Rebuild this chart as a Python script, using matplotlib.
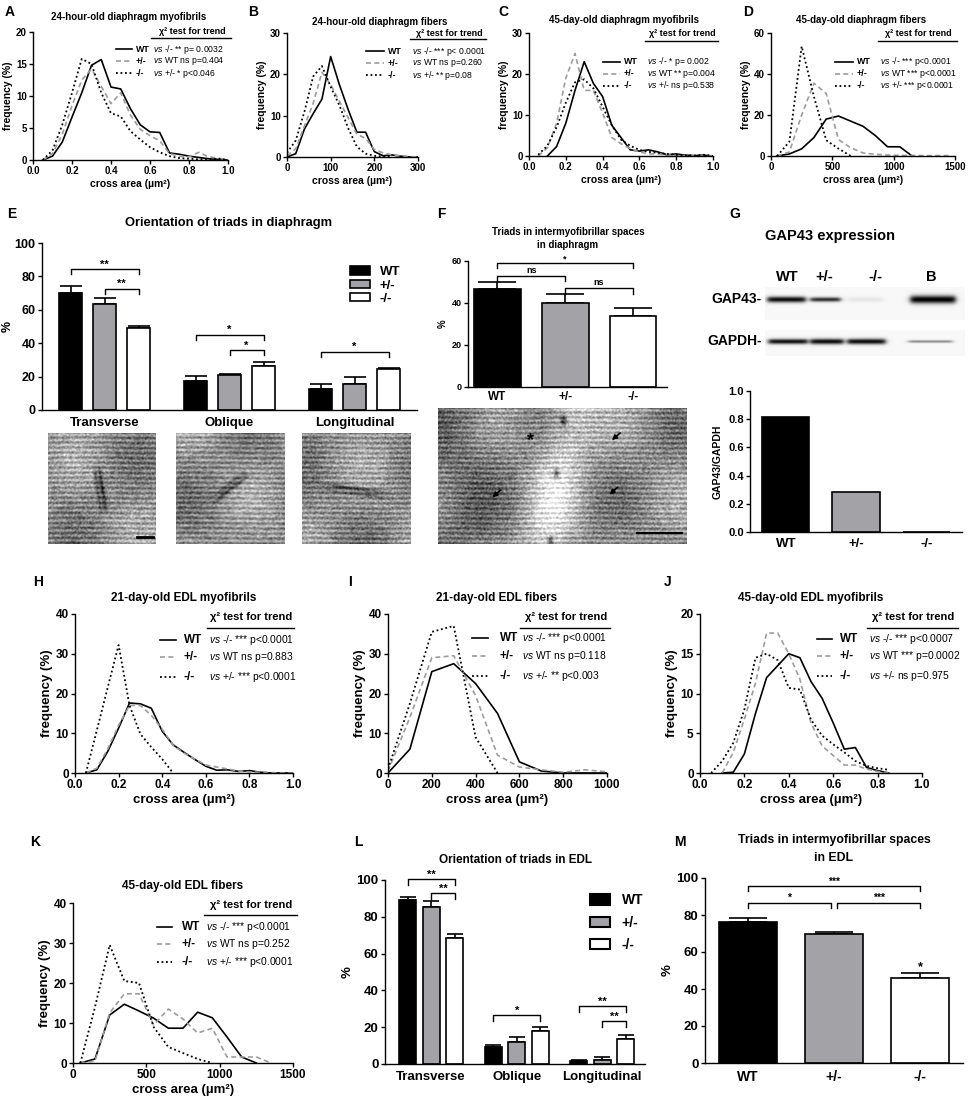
import numpy as np
import matplotlib
matplotlib.use("Agg")
import matplotlib.pyplot as plt
from matplotlib.lines import Line2D
from matplotlib.patches import Patch
from matplotlib.ticker import FormatStrFormatter

plt.rcParams['font.family'] = ['Liberation Sans', 'DejaVu Sans']
plt.rcParams['mathtext.fontset'] = 'custom'
plt.rcParams['mathtext.rm'] = 'Liberation Sans'
plt.rcParams['mathtext.it'] = 'Liberation Sans:italic'
plt.rcParams['mathtext.bf'] = 'Liberation Sans:bold'

nan = float('nan')

# ---------------- data ----------------
groups = ['WT', '+/-', '-/-']

# A - 24-hour-old diaphragm myofibrils
a_bins = [0.05, 0.1, 0.15, 0.2, 0.25, 0.3, 0.35, 0.4, 0.45, 0.5,
          0.55, 0.6, 0.65, 0.7, 0.75, 0.8, 0.85, 0.9, 0.95, 1.0]
a_wt = [0, 0.6, 2.8, 6.7, 10.5, 14.8, 15.7, 11.4, 11.1, 8.0, 5.5, 4.4, 4.3, 1.1, 0.9, 0.6, 0.4, 0.2, 0.1, 0]
a_het = [0, 1.0, 4.0, 8.5, 12.5, 14.2, 11.5, 8.8, 10.5, 7.0, 4.8, 3.8, 3.0, 1.0, 0.6, 0.5, 1.2, 0.5, 0.3, 0]
a_ko = [0, 1.5, 5.5, 10.5, 15.8, 15.0, 10.5, 7.3, 6.8, 4.5, 3.2, 2.0, 1.2, 0.6, 0.3, 0.2, 0.1, 0.1, 0.2, 0]
a_comp = ['-/- ** p= 0.0032', 'WT ns p=0.404', '+/- * p<0.046']

# B - 24-hour-old diaphragm fibers
b_bins = [0, 20, 40, 60, 80, 100, 120, 140, 160, 180, 200, 220, 240, 260, 280, 300]
b_wt = [0, 0.8, 6.8, 10.5, 14, 24.3, 17.5, 11.5, 6, 6, 1.3, 0.3, 0.5, 0.2, 0, 0]
b_het = [0.3, 2, 7.5, 13, 20.5, 17.5, 13.5, 9.5, 5.5, 4.5, 1.8, 1, 0.5, 0.3, 0.1, 0]
b_ko = [1.0, 4, 11, 19.5, 22, 17, 12.5, 7, 2.5, 0.8, 0.3, 0.1, 0, nan, nan, nan]
b_comp = ['-/- *** p< 0.0001', 'WT ns p=0.260', '+/- ** p=0.08']

# C - 45-day-old diaphragm myofibrils
c_bins = a_bins
c_wt = [nan, 0, 2.3, 8, 16, 23, 17.7, 14.5, 7.5, 4.5, 1.5, 1.2, 1.5, 1.0, 0.3, 0.5, 0.2, 0.1, 0.2, 0]
c_het = [0, 2, 8, 19, 25, 16, 16, 10.5, 4.5, 3, 1.8, 1.0, 0.5, 0.5, 0.3, 0.1, 0.1, 0, 0, 0]
c_ko = [0.3, 2.5, 7, 13, 18, 18.7, 16.5, 12, 7.5, 4, 2.5, 1.5, 1, 0.8, 0.5, 0.3, 0.2, 0.1, 0.3, 0]
c_comp = ['-/- * p= 0.002', 'WT ** p=0.004', '+/- ns p=0.538']

# D - 45-day-old diaphragm fibers
d_bins = [50, 150, 250, 350, 450, 550, 650, 750, 850, 950, 1050, 1150, 1250, 1350, 1450]
d_wt = [0, 1, 3.5, 9, 18, 19.5, 17, 14.5, 10, 4.5, 4.5, 0, nan, nan, nan]
d_het = [0, 2, 20, 35.5, 30.5, 8, 4, 1.5, 0.8, 0.5, 0.3, 0.3, 0.2, 0.2, 0.2]
d_ko = [0, 7, 53.5, 29, 7.7, 3.6, 0, nan, nan, nan, nan, nan, nan, nan, nan]
d_comp = ['-/- *** p<0.0001', 'WT *** p<0.0001', '+/- *** p<0.0001']

# E - orientation of triads in diaphragm
orient = ['Transverse', 'Oblique', 'Longitudinal']
e_mean = {'WT': [70.1, 17.5, 12.5], '+/-': [63.7, 20.9, 15.5], '-/-': [49.4, 26.5, 24.3]}
e_err = {'WT': [4.2, 2.8, 3.0], '+/-': [3.4, 0.6, 4.0], '-/-': [1.0, 2.0, 1.0]}
e_sig = [(0, 0, 2, 84.3, '**'), (0, 1, 2, 72.7, '**'), (1, 0, 2, 45.2, '*'),
         (1, 1, 2, 35.9, '*'), (2, 0, 2, 34.9, '*')]

# F - triads in intermyofibrillar spaces, diaphragm
f_mean = [46.7, 40.0, 34.0]
f_err = [3.5, 4.4, 3.4]
f_sig = [(0, 2, 59.2, '*'), (0, 1, 53.0, 'ns'), (1, 2, 47.0, 'ns')]

# G - GAP43 expression
lanes = ['WT', '+/-', '-/-', 'B']
gap43_band = [0.92, 0.78, 0.07, 0.98]
gapdh_band = [0.90, 0.92, 0.92, 0.40]
g_ratio = [0.816, 0.287, 0.0]

# H - 21-day-old EDL myofibrils
h_bins = a_bins
h_wt = [0, 0.8, 5.4, 11.3, 17.6, 17.4, 16.3, 10.5, 7.1, 5.2, 3.4, 1.7, 0.7, 0.8, 0.4, 0.6, 0.2, 0, 0, 0]
h_het = [0, 1.2, 6, 12, 17, 17, 14.5, 11, 7, 5, 3.5, 2, 1.5, 1, 0.5, 0.3, 0.2, 0.1, 0, 0]
h_ko = [0, 10.7, 21.5, 32.2, 17, 9.8, 6.5, 3.5, 0, nan, nan, nan, nan, nan, nan, nan, nan, nan, nan, nan]
h_comp = ['-/- *** p<0.0001', 'WT ns p=0.883', '+/- *** p<0.0001']

# I - 21-day-old EDL fibers
i_bins = [0, 100, 200, 300, 400, 500, 600, 700, 800, 900, 1000]
i_wt = [0, 6, 25.5, 27.5, 22.5, 15, 2.8, 0.5, 0, 0, 0]
i_het = [0.5, 14, 29, 29.5, 19.5, 4.5, 1.5, 0.8, 0.2, 0.8, 0.3]
i_ko = [1, 17.5, 35.5, 37, 9, 0, nan, nan, nan, nan, nan]
i_comp = ['-/- *** p<0.0001', 'WT ns p=0.118', '+/- ** p<0.003']

# J - 45-day-old EDL myofibrils
j_bins = [0.05, 0.1, 0.15, 0.2, 0.25, 0.3, 0.35, 0.4, 0.45, 0.5,
          0.55, 0.6, 0.65, 0.7, 0.75, 0.8, 0.85]
j_wt = [nan, 0, 0.1, 2.4, 7.5, 12, 13.5, 15, 14.5, 11.5, 9.4, 6.3, 3.0, 3.2, 0.7, 0.3, 0]
j_het = [nan, 0, 2.6, 6.8, 11.3, 17.6, 17.6, 15, 11.8, 6.3, 3.4, 2.2, 1.0, 1.0, 0.5, 0.2, 0]
j_ko = [0, 1.5, 3.8, 8, 14.5, 15, 14.2, 10.7, 10.5, 6.7, 4.7, 3.6, 2.6, 1.5, 0.9, 0.6, 0.4]
j_comp = ['-/- *** p<0.0007', 'WT *** p=0.0002', '+/- ns p=0.975']

# K - 45-day-old EDL fibers
k_bins = d_bins
k_wt = [0, 1, 12, 14.7, 13, 11.2, 8.7, 8.7, 12.7, 11.3, 6.5, 1.5, 0, nan, nan]
k_het = [0, 0.5, 12.5, 17.3, 17.3, 9.5, 13.5, 11, 7.5, 8.7, 1.5, 1.5, 1.5, 0, nan]
k_ko = [0, 14, 29.5, 20.5, 20, 9, 4, 2.5, 1, 0, nan, nan, nan, nan, nan]
k_comp = ['-/- *** p<0.0001', 'WT ns p=0.252', '+/- *** p<0.0001']

# L - orientation of triads in EDL
l_mean = {'WT': [89.1, 9.1, 1.5], '+/-': [85.5, 12.2, 2.2], '-/-': [68.7, 17.8, 13.6]}
l_err = {'WT': [1.9, 1.3, 0.7], '+/-': [3.1, 2.3, 1.4], '-/-': [2.0, 2.2, 2.2]}
l_sig = [(0, 0, 2, 100.5, '**'), (0, 1, 2, 92.8, '**'), (1, 0, 2, 26.4, '*'),
         (2, 0, 2, 31.5, '**'), (2, 1, 2, 23.3, '**')]

# M - triads in intermyofibrillar spaces, EDL
m_mean = [76.3, 69.5, 46.1]
m_err = [2.3, 1.2, 2.4]
m_sig = [(0, 2, 95.5, '***'), (0, 0.96, 86.7, '*'), (1.04, 2, 86.7, '***')]

# ---------------- layout helpers ----------------
W, H = 970, 1110
fig = plt.figure(figsize=(W / 100, H / 100), dpi=100)

FILL = {'WT': 'black', '+/-': '#a3a3a7', '-/-': 'white'}
STY = {'WT': dict(color='black', ls='-', lw=1.2),
       '+/-': dict(color='#9c9c9c', ls=(0, (3, 2)), lw=1.2),
       '-/-': dict(color='black', ls=(0, (1, 1.5)), lw=1.3)}


def fx(x):
    return x / W


def fy(y):
    return 1 - y / H


def rect(l, t, r, b):
    return [l / W, 1 - b / H, (r - l) / W, (b - t) / H]


def ftext(x, y, s, **kw):
    kw.setdefault('ha', 'center')
    kw.setdefault('va', 'center')
    return fig.text(fx(x), fy(y), s, **kw)


def style_axes(ax, fs):
    for s in ['top', 'right']:
        ax.spines[s].set_visible(False)
    for s in ['left', 'bottom']:
        ax.spines[s].set_linewidth(1.0)
    ax.tick_params(direction='out', length=3, width=1, labelsize=fs, pad=1.5)
    for lab in ax.get_xticklabels() + ax.get_yticklabels():
        lab.set_fontweight('bold')


def line_panel(box, bins, ys, xlim, xticks, ylim, yticks, fmt, fs_tick, fs_lab):
    ax = fig.add_axes(rect(*box))
    for g, y in zip(groups, ys):
        ax.plot(bins, y, **STY[g])
    ax.set_xlim(xlim)
    ax.set_ylim(ylim)
    ax.set_xticks(xticks)
    ax.set_yticks(yticks)
    ax.xaxis.set_major_formatter(FormatStrFormatter(fmt))
    style_axes(ax, fs_tick)
    ax.set_xlabel('cross area (µm²)', fontsize=fs_lab, fontweight='bold', labelpad=2)
    ax.set_ylabel('frequency (%)', fontsize=fs_lab, fontweight='bold', labelpad=2)
    return ax


def chi_legend(xl0, xl1, xlab, xtxt, xend, yhead, yline, rows, comps, fs_head, fs_lab, fs_txt):
    ftext((xtxt + xend) / 2, yhead, 'χ² test for trend', fontsize=fs_head, fontweight='bold')
    fig.add_artist(Line2D([fx(xtxt - 2), fx(xend)], [fy(yline)] * 2, color='black', lw=1.0))
    for g, y, c in zip(groups, rows, comps):
        fig.add_artist(Line2D([fx(xl0), fx(xl1)], [fy(y)] * 2, **STY[g]))
        ftext(xlab, y, g, ha='left', fontsize=fs_lab, fontweight='bold')
        ftext(xtxt, y, r'$\mathit{vs}$ ' + c, ha='left', fontsize=fs_txt)


def bracket(ax, x1, x2, y, label, h, fs, off):
    ax.plot([x1, x1, x2, x2], [y - h, y, y, y - h], color='black', lw=1.0, clip_on=False)
    ax.annotate(label, ((x1 + x2) / 2, y), xytext=(0, off), textcoords='offset points',
                ha='center', va='baseline', fontsize=fs, fontweight='bold',
                annotation_clip=False)


def grouped_bars(ax, means, errs, width, offs, capsize):
    x = np.arange(len(orient))
    for g, off in zip(groups, offs):
        ax.bar(x + off, means[g], width, color=FILL[g], edgecolor='black', lw=1.2, zorder=2)
        ax.errorbar(x + off, means[g], yerr=[np.zeros(3), errs[g]], fmt='none', ecolor='black',
                    elinewidth=1.2, capsize=capsize, capthick=1.2, zorder=1)


def single_bars(ax, means, errs, width, capsize):
    x = np.arange(len(groups))
    ax.bar(x, means, width, color=[FILL[g] for g in groups], edgecolor='black', lw=1.2, zorder=2)
    if errs is not None:
        ax.errorbar(x, means, yerr=[np.zeros(3), errs], fmt='none', ecolor='black',
                    elinewidth=1.2, capsize=capsize, capthick=1.2, zorder=1)


def micrograph(h, w, angle, length, phase):
    yy, xx = np.mgrid[0:h, 0:w].astype(float)
    stripes = np.sin(yy * 1.25 + 0.5 * np.sin(xx * 0.04 + phase))
    grain = np.sin(xx * 12.9898 + yy * 78.233 + phase) * 43758.5453
    grain = grain - np.floor(grain)
    img = 0.56 + 0.15 * stripes + 0.4 * (grain - 0.5)
    img = (img + np.roll(img, 1, 0) + np.roll(img, 1, 1) + np.roll(np.roll(img, 1, 0), 1, 1)) / 4
    img += 0.14 * np.sin(xx * 0.05 + phase) * np.sin(yy * 0.04 + 2 * phase)
    if length > 0:
        dx, dy = xx - w / 2, yy - h / 2
        par = dx * np.cos(angle) + dy * np.sin(angle)
        perp = -dx * np.sin(angle) + dy * np.cos(angle)
        img -= 0.35 * np.exp(-(perp / 2.2) ** 2) * np.exp(-(par / length) ** 4)
        img -= 0.25 * np.exp(-((perp - 5) / 2.0) ** 2) * np.exp(-(par / length) ** 4)
    return np.clip(img, 0, 1)


def show_image(box, img):
    ax = fig.add_axes(rect(*box))
    ax.imshow(img, cmap='gray', vmin=0, vmax=1, aspect='auto', interpolation='bilinear')
    ax.set_axis_off()
    return ax


# ---------------- top row: A-D ----------------
fs1_tick, fs1_lab = 7, 7.5
line_panel((33, 32, 228, 160), a_bins, [a_wt, a_het, a_ko], (0, 1), [0, 0.2, 0.4, 0.6, 0.8, 1.0],
           (0, 20), [0, 5, 10, 15, 20], '%.1f', fs1_tick, fs1_lab)
ftext(129, 17, '24-hour-old diaphragm myofibrils', fontsize=7, fontweight='bold')
chi_legend(116, 132, 136, 153, 231, 32, 38, [49, 61, 73], a_comp, 6.5, 6.4, 6.2)

line_panel((287, 33, 418, 157), b_bins, [b_wt, b_het, b_ko], (0, 300), [0, 100, 200, 300],
           (0, 30), [0, 10, 20, 30], '%d', fs1_tick, fs1_lab)
ftext(380, 22, '24-hour-old diaphragm fibers', fontsize=7, fontweight='bold')
chi_legend(366, 384, 388, 412, 486, 34, 39, [51, 63, 75], b_comp, 6.5, 6.4, 6.2)

line_panel((529, 33, 713, 156), c_bins, [c_wt, c_het, c_ko], (0, 1), [0, 0.2, 0.4, 0.6, 0.8, 1.0],
           (0, 30), [0, 10, 20, 30], '%.1f', fs1_tick, fs1_lab)
ftext(624, 20, '45-day-old diaphragm myofibrils', fontsize=7, fontweight='bold')
chi_legend(603, 620, 624, 647, 718, 34, 41, [62, 74, 86], c_comp, 6.5, 6.4, 6.2)

line_panel((771, 33, 955, 156), d_bins, [d_wt, d_het, d_ko], (0, 1500), [0, 500, 1000, 1500],
           (0, 60), [0, 20, 40, 60], '%d', fs1_tick, fs1_lab)
ftext(861, 20, '45-day-old diaphragm fibers', fontsize=7, fontweight='bold')
chi_legend(835, 853, 857, 880, 957, 34, 41, [62, 74, 86], d_comp, 6.5, 6.4, 6.2)

# ---------------- E ----------------
axE = fig.add_axes(rect(42, 243, 417, 410))
offsE = [-0.272, 0, 0.272]
grouped_bars(axE, e_mean, e_err, 0.184, offsE, 8)
axE.set_xlim(-0.5, 2.5)
axE.set_ylim(0, 100)
axE.set_yticks([0, 20, 40, 60, 80, 100])
axE.set_xticks(range(3))
axE.set_xticklabels(orient)
style_axes(axE, 9)
axE.tick_params(axis='x', length=0, pad=5, labelsize=9.5)
axE.set_ylabel('%', fontsize=9, fontweight='bold')
axE.yaxis.set_label_coords(-0.075, 0.5)
for gi, i, j, y, lab in e_sig:
    bracket(axE, gi + offsE[i], gi + offsE[j], y, lab, 3, 8, 1)
axE.legend([Patch(facecolor=FILL[g], edgecolor='black', lw=1.2) for g in groups], groups,
           loc='upper left', bbox_to_anchor=(0.805, 0.9), frameon=False, borderpad=0,
           handlelength=1.5, handleheight=0.6, handletextpad=0.7, labelspacing=0.1,
           prop={'size': 9.5, 'weight': 'bold'})
ftext(229, 223, 'Orientation of triads in diaphragm', fontsize=9.3, fontweight='bold')

for k, (l, r) in enumerate([(48, 156), (176, 284), (302, 411)]):
    ang = [np.pi / 2 - 0.15, np.pi / 2 + 0.9, 0.12][k]
    axm = show_image((l, 433, r, 544), micrograph(111, r - l, ang, [22, 20, 30][k], 0.7 * k + 0.3))
axm_e = fig.axes[-3]
axm_e.plot([0.82, 0.97], [0.06, 0.06], color='black', lw=2, transform=axm_e.transAxes)

# ---------------- F ----------------
axF = fig.add_axes(rect(468, 261, 667, 387))
single_bars(axF, f_mean, f_err, 0.69, 14)
axF.set_xlim(-0.43, 2.5)
axF.set_ylim(0, 60)
axF.set_yticks([0, 20, 40, 60])
axF.set_xticks(range(3))
axF.set_xticklabels(groups)
style_axes(axF, 6.5)
axF.tick_params(axis='x', length=0, pad=3, labelsize=8.5)
axF.set_ylabel('%', fontsize=7, fontweight='bold', labelpad=3)
for i, j, y, lab in f_sig:
    bracket(axF, i, j, y, lab, 2.5, 6.5, 1 if lab != 'ns' else 2.2)
ftext(568, 232, 'Triads in intermyofibrillar spaces', fontsize=7, fontweight='bold')
ftext(568, 245, 'in diaphragm', fontsize=7, fontweight='bold')

imgF = micrograph(136, 249, 0, 0, 2.1)
yy, xx = np.mgrid[0:136, 0:249].astype(float)
imgF += 0.28 * np.exp(-((xx - 122 + 0.2 * (yy - 60)) / 26) ** 2)
imgF -= 0.12 * np.exp(-((xx - 20) / 40) ** 2)
for bx, by, br in [(125, 12, 5), (118, 65, 5), (112, 132, 5)]:
    imgF -= 0.5 * np.exp(-(((xx - bx) / 3) ** 2 + ((yy - by) / br) ** 2))
imgF = np.clip(imgF, 0, 1)
axFi = show_image((438, 408, 687, 544), imgF)
axFi.text(0.37, 0.76, '*', transform=axFi.transAxes, fontsize=13, fontweight='bold', ha='center', va='center')
for tx, ty in [(0.72, 0.80), (0.24, 0.38), (0.71, 0.40)]:
    axFi.annotate('', xy=(tx - 0.03, ty - 0.05), xytext=(tx + 0.02, ty + 0.03),
                  xycoords='axes fraction', arrowprops=dict(arrowstyle='-|>', color='black', lw=1.2,
                                                            mutation_scale=7))
axFi.plot([0.8, 0.98], [0.08, 0.08], color='black', lw=1.5, transform=axFi.transAxes)

# ---------------- G ----------------
ftext(830, 236, 'GAP43 expression', fontsize=10.5, fontweight='bold')
for name, xc in zip(lanes, [787, 824, 875, 931]):
    ftext(xc, 277, name, fontsize=10.5, fontweight='bold')
ftext(762, 299, 'GAP43-', ha='right', fontsize=10, fontweight='bold')
ftext(762, 341, 'GAPDH-', ha='right', fontsize=10, fontweight='bold')


def blot(box, bands, spans, sigmas, yc):
    l, t, r, b = box
    h, w = b - t, r - l
    yy, xx = np.mgrid[0:h, 0:w].astype(float)
    img = np.full((h, w), 0.97)
    for inten, (x0, x1), sg in zip(bands, spans, sigmas):
        edge = 1 / (1 + np.exp(-(xx - x0) / 1.5)) * 1 / (1 + np.exp((xx - x1) / 1.5))
        img -= inten * edge * np.exp(-((yy - yc) / sg) ** 2)
    ax = fig.add_axes(rect(*box))
    ax.imshow(np.clip(img, 0, 1), cmap='gray', vmin=0, vmax=1, aspect='auto', interpolation='bilinear')
    ax.set_axis_off()


blot((765, 287, 965, 320), gap43_band, [(2, 40), (45, 75), (82, 117), (145, 190)], [3.0, 2.3, 2.5, 4.0], 12)
blot((765, 330, 965, 356), gapdh_band, [(3, 42), (45, 78), (82, 120), (143, 187)], [2.6, 2.8, 2.8, 1.4], 11)

axG = fig.add_axes(rect(750, 391, 962, 532))
single_bars(axG, g_ratio, None, 0.67, 0)
axG.set_xlim(-0.51, 2.51)
axG.set_ylim(0, 1.0)
axG.set_yticks([0, 0.2, 0.4, 0.6, 0.8, 1.0])
axG.yaxis.set_major_formatter(FormatStrFormatter('%.1f'))
axG.set_xticks(range(3))
axG.set_xticklabels(groups)
style_axes(axG, 8)
axG.tick_params(axis='x', length=0, pad=4, labelsize=9.5)
axG.set_ylabel('GAP43/GAPDH', fontsize=7.5, fontweight='bold', labelpad=4)

# ---------------- H-J ----------------
fs3_tick, fs3_lab = 8.5, 9.5
line_panel((75, 614, 293, 773), h_bins, [h_wt, h_het, h_ko], (0, 1), [0, 0.2, 0.4, 0.6, 0.8, 1.0],
           (0, 40), [0, 10, 20, 30, 40], '%.1f', fs3_tick, fs3_lab)
ftext(184, 598, '21-day-old EDL myofibrils', fontsize=8.5, fontweight='bold')
chi_legend(160, 176, 184, 209, 294, 617, 628, [640, 657, 677], h_comp, 8, 8.5, 7.4)

line_panel((388, 614, 607, 773), i_bins, [i_wt, i_het, i_ko], (0, 1000), [0, 200, 400, 600, 800, 1000],
           (0, 40), [0, 10, 20, 30, 40], '%d', fs3_tick, fs3_lab)
ftext(497, 598, '21-day-old EDL fibers', fontsize=8.5, fontweight='bold')
chi_legend(472, 488, 500, 522, 610, 617, 628, [638, 656, 676], i_comp, 8, 8.5, 7.4)

line_panel((700, 614, 922, 773), j_bins, [j_wt, j_het, j_ko], (0, 1), [0, 0.2, 0.4, 0.6, 0.8, 1.0],
           (0, 20), [0, 5, 10, 15, 20], '%.1f', fs3_tick, fs3_lab)
ftext(811, 598, '45-day-old EDL myofibrils', fontsize=8.5, fontweight='bold')
chi_legend(817, 832, 840, 869, 958, 617, 628, [639, 656, 676], j_comp, 8, 8.5, 7.4)

# ---------------- K ----------------
line_panel((73, 903, 293, 1063), k_bins, [k_wt, k_het, k_ko], (0, 1500), [0, 500, 1000, 1500],
           (0, 40), [0, 10, 20, 30, 40], '%d', fs3_tick, fs3_lab)
ftext(183, 886, '45-day-old EDL fibers', fontsize=8.5, fontweight='bold')
chi_legend(157, 172, 182, 206, 297, 905, 915, [927, 944, 962], k_comp, 8, 8.5, 7.4)

# ---------------- L ----------------
axL = fig.add_axes(rect(385, 880, 645, 1064))
offsL = [-0.275, 0, 0.275]
grouped_bars(axL, l_mean, l_err, 0.2, offsL, 6)
axL.set_xlim(-0.54, 2.5)
axL.set_ylim(0, 100)
axL.set_yticks([0, 20, 40, 60, 80, 100])
axL.set_xticks(range(3))
axL.set_xticklabels(orient)
style_axes(axL, 9.5)
axL.tick_params(axis='x', length=0, pad=5, labelsize=9.5)
axL.set_ylabel('%', fontsize=9.5, fontweight='bold', labelpad=2)
for gi, i, j, y, lab in l_sig:
    bracket(axL, gi + offsL[i], gi + offsL[j], y, lab, 3, 8, 1)
axL.legend([Patch(facecolor=FILL[g], edgecolor='black', lw=1.5) for g in groups], groups,
           loc='upper left', bbox_to_anchor=(0.76, 0.965), frameon=False, borderpad=0,
           handlelength=1.5, handleheight=0.75, handletextpad=0.8, labelspacing=0.6,
           prop={'size': 10, 'weight': 'bold'})
ftext(516, 860, 'Orientation of triads in EDL', fontsize=8.5, fontweight='bold')

# ---------------- M ----------------
axM = fig.add_axes(rect(705, 878, 963, 1063))
single_bars(axM, m_mean, m_err, 0.67, 14)
axM.set_xlim(-0.5, 2.5)
axM.set_ylim(0, 100)
axM.set_yticks([0, 20, 40, 60, 80, 100])
axM.set_xticks(range(3))
axM.set_xticklabels(groups)
style_axes(axM, 9.5)
axM.tick_params(axis='x', length=0, pad=5, labelsize=10)
axM.set_ylabel('%', fontsize=9.5, fontweight='bold', labelpad=2)
for i, j, y, lab in m_sig:
    bracket(axM, i, j, y, lab, 2.7, 7.5, 1)
axM.annotate('*', (2, m_mean[2] + m_err[2]), xytext=(0, 2), textcoords='offset points',
             ha='center', va='baseline', fontsize=9, fontweight='bold')
ftext(834, 840, 'Triads in intermyofibrillar spaces', fontsize=8.8, fontweight='bold')
ftext(834, 858, 'in EDL', fontsize=8.8, fontweight='bold')

# ---------------- panel letters ----------------
for lab, x, y in [('A', 10, 12), ('B', 253, 12), ('C', 503, 12), ('D', 748, 12),
                  ('E', 12, 214), ('F', 441, 214), ('G', 735, 214),
                  ('H', 38, 582), ('I', 350, 582), ('J', 668, 582),
                  ('K', 35, 842), ('L', 358, 842), ('M', 680, 842)]:
    ftext(x, y, lab, fontsize=10, fontweight='bold')

fig.savefig('out.png', dpi=100)
